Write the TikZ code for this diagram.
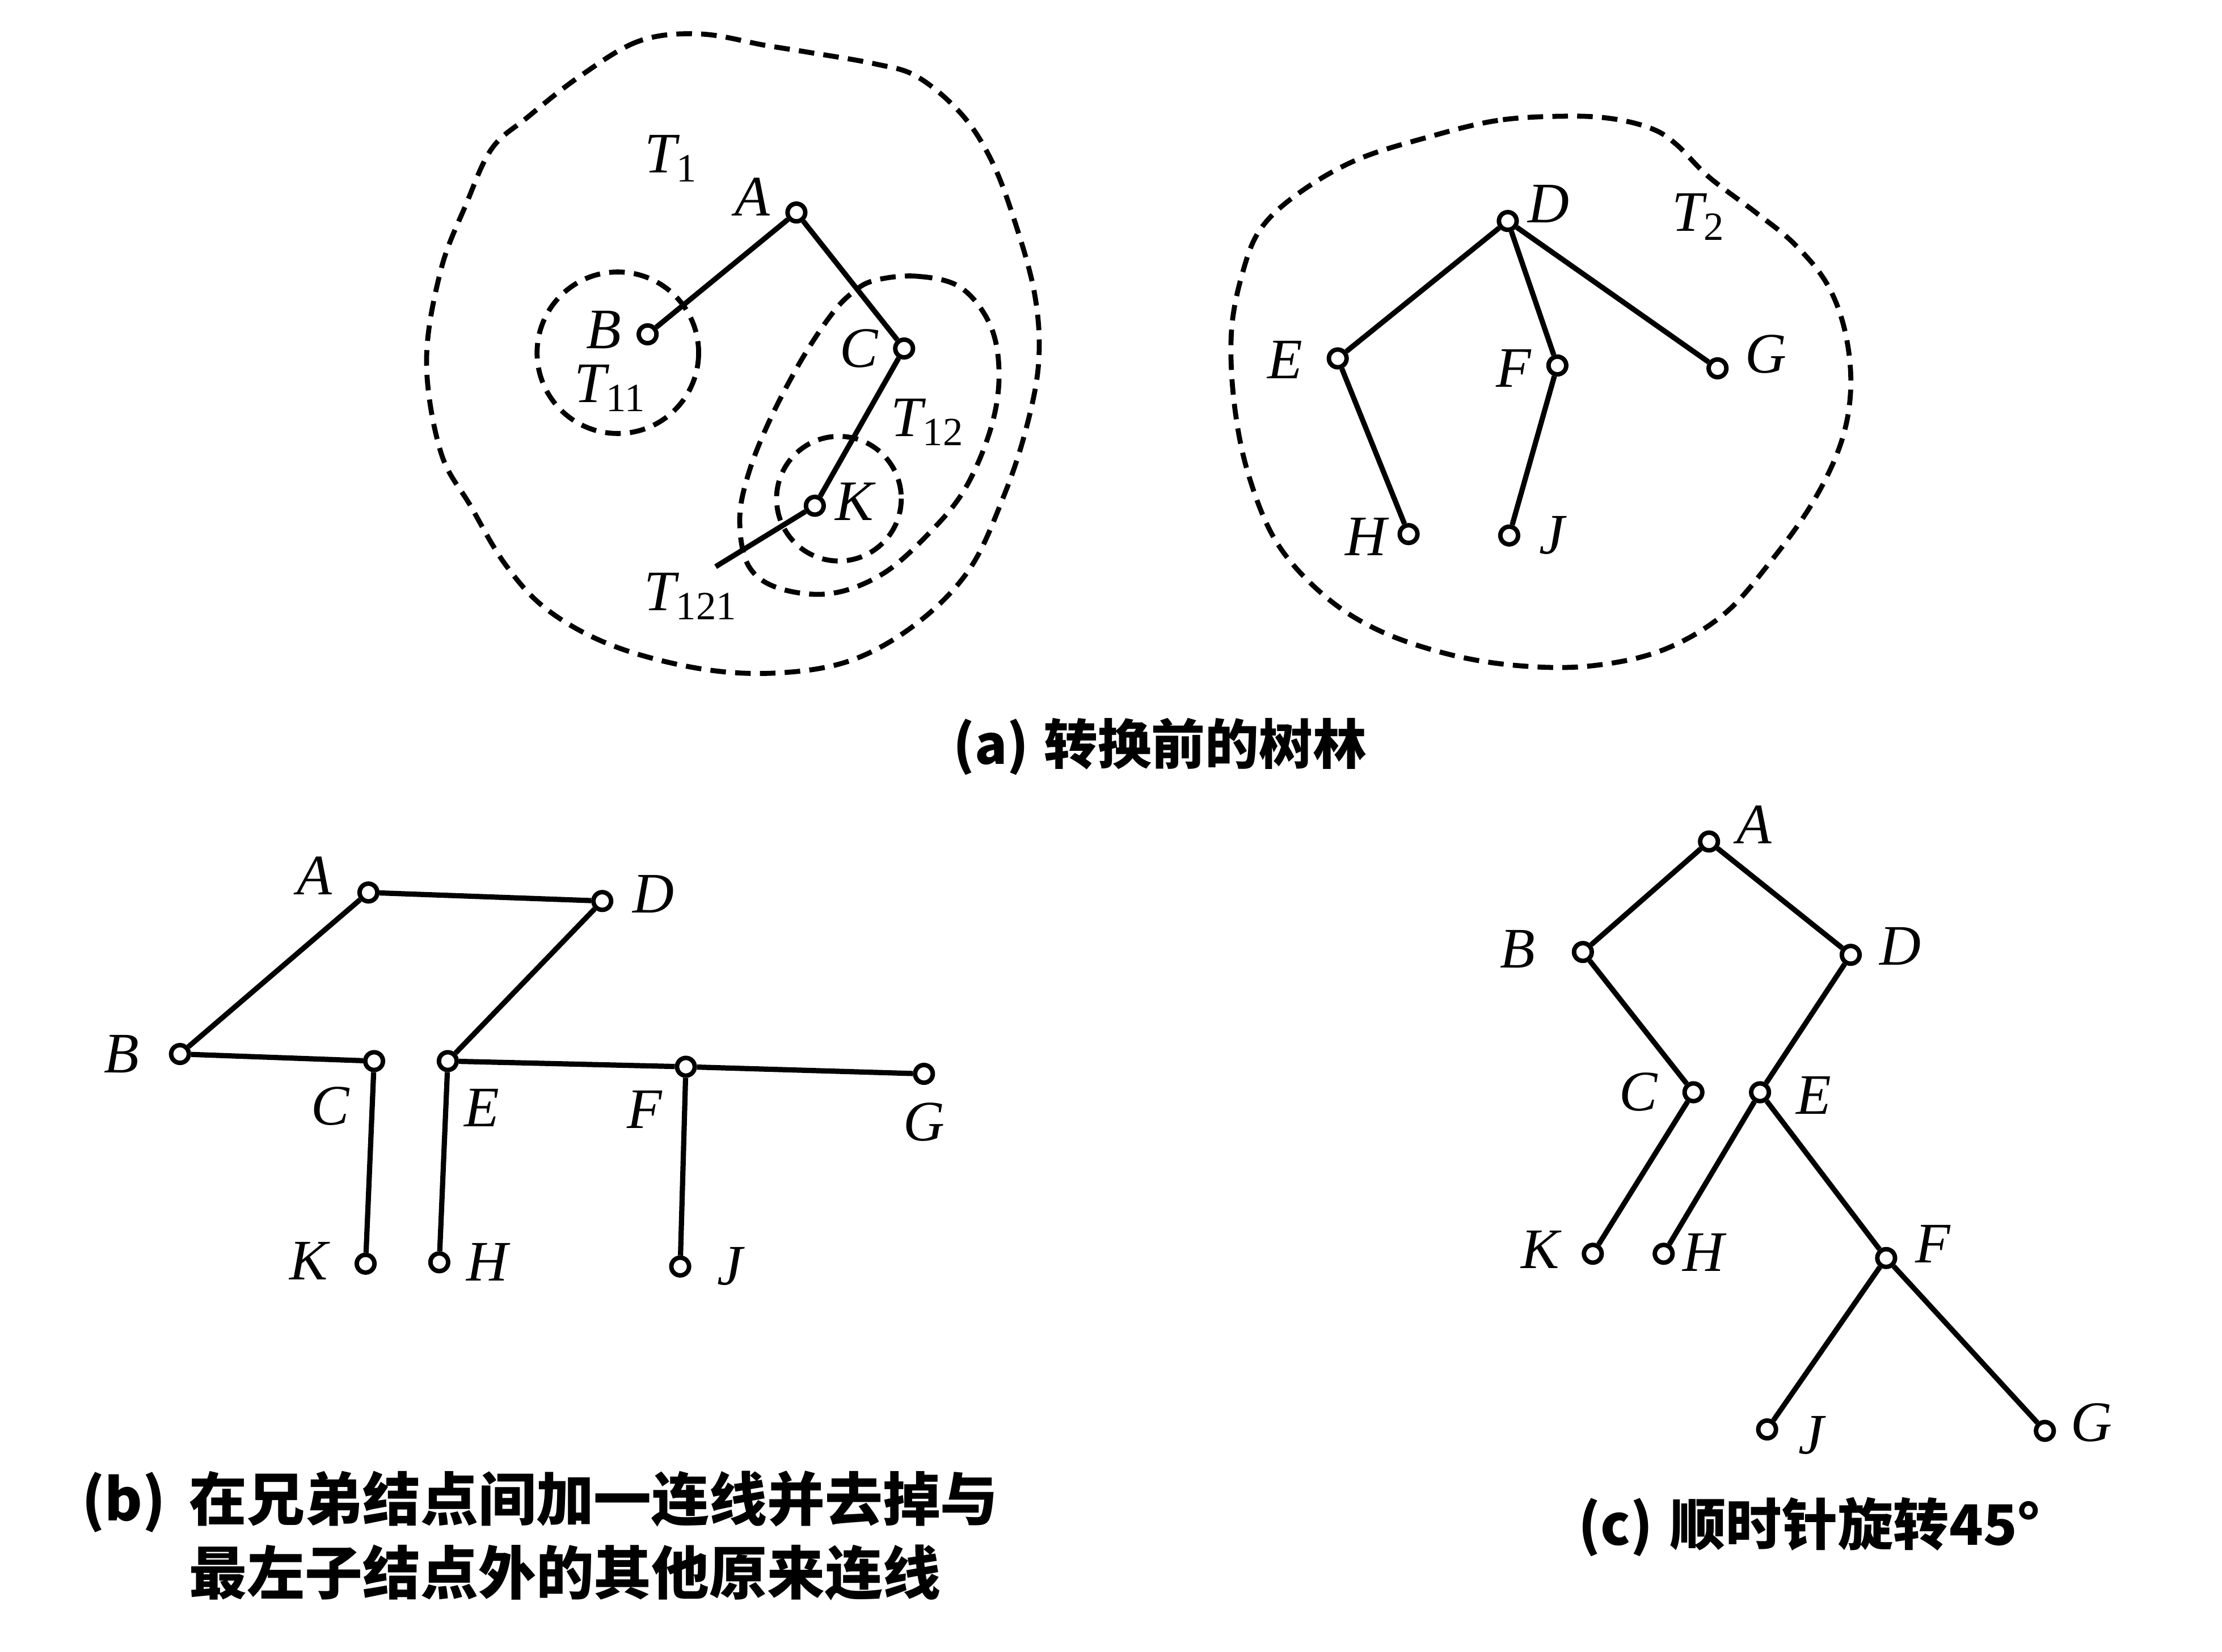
\documentclass[tikz,border=0pt]{standalone}
\usepackage{fontspec}
\setmainfont{Liberation Serif}
\newfontfamily\cjk{Noto Sans CJK SC}
\begin{document}
\begin{tikzpicture}[x=0.1mm, y=-0.1mm,
  vtx/.style={circle, draw, fill=white, inner sep=0pt, minimum size=1.25mm, line width=0.9pt},
  lbl/.style={inner sep=0pt, font=\fontsize{11.5}{13}\selectfont\itshape},
  edge/.style={line width=1.05pt},
  bound/.style={dash pattern=on 1.1mm off 0.65mm, line width=1pt},
  captext/.style={inner sep=0pt, anchor=west, align=left, font=\fontsize{#1}{14.8}\selectfont\cjk\bfseries}]
\useasboundingbox (0,0) rectangle (1568,1166);
% (a) T1
\draw[bound] plot[smooth cycle, tension=0.6] coordinates {(494,24) (451,29) (409,54) (372,83) (347,105) (329,144) (311,191) (301,255) (311,319) (332,357) (357,399) (387,431) (433,456) (494,472) (549,475) (601,466) (647,440) (684,402) (708,351) (724,303) (733,255) (730,207) (715,153) (699,112) (678,80) (647,54) (617,45) (571,37) (540,32)};
\draw[bound] (436,249) circle[radius=57];
\draw[bound] plot[smooth cycle, tension=0.6] coordinates {(617,198) (647,195) (678,203) (699,230) (705,265) (699,303) (681,345) (656,376) (623,405) (586,419) (549,415) (528,399) (522,367) (528,335) (543,297) (565,255) (586,223) (601,207)};
\draw[bound] (592,352) circle[radius=44];
\node[vtx] (aA) at (562,150) {};
\node[vtx] (aB) at (457,236) {};
\node[vtx] (aC) at (638,246) {};
\node[vtx] (aK) at (575,357) {};
\coordinate (aT) at (505,400);
\draw[edge] (aA) -- (aB);
\draw[edge] (aA) -- (aC);
\draw[edge] (aC) -- (aK);
\draw[edge] (aK) -- (aT);
\node[lbl] (tT1) at (474,112) {T\textsubscript{\upshape 1}};
\node[lbl] (tT11) at (431,274) {T\textsubscript{\upshape 11}};
\node[lbl] (tT12) at (655,298) {T\textsubscript{\upshape 12}};
\node[lbl] (tT121) at (488,421) {T\textsubscript{\upshape 121}};
\node[lbl] (laA) at (531,139) {A};
\node[lbl] (laB) at (426,233) {B};
\node[lbl] (laC) at (606,246) {C};
\node[lbl] (laK) at (603,354) {K};
% (a) T2
\draw[bound] plot[smooth cycle, tension=0.6] coordinates {(1106,82) (1057,85) (1007,97) (957,113) (917,136) (890,161) (877,192) (869,234) (871,285) (881,335) (901,383) (934,420) (973,445) (1023,462) (1073,470) (1123,470) (1173,459) (1216,434) (1249,397) (1279,355) (1299,313) (1306,274) (1302,234) (1289,200) (1266,172) (1239,150) (1206,125) (1183,102) (1166,91) (1139,84)};
\node[vtx] (aD) at (1064,156) {};
\node[vtx] (aE) at (944,253) {};
\node[vtx] (aF) at (1099,258) {};
\node[vtx] (aG) at (1212,260) {};
\node[vtx] (aH) at (994,377) {};
\node[vtx] (aJ) at (1065,378) {};
\draw[edge] (aD) -- (aE);
\draw[edge] (aD) -- (aF);
\draw[edge] (aD) -- (aG);
\draw[edge] (aE) -- (aH);
\draw[edge] (aF) -- (aJ);
\node[lbl] (tT2) at (1199,153) {T\textsubscript{\upshape 2}};
\node[lbl] (laD) at (1093,144) {D};
\node[lbl] (laE) at (907,254) {E};
\node[lbl] (laF) at (1068,260) {F};
\node[lbl] (laG) at (1246,250) {G};
\node[lbl] (laH) at (964,379) {H};
\node[lbl] (laJ) at (1095,378) {J};
\node[captext=10.8] (capa) at (672,527) {\makebox[6.4mm][l]{(a)}转换前的树林};
% (b)
\node[vtx] (bA) at (260,630) {};
\node[vtx] (bD) at (425,636) {};
\node[vtx] (bB) at (127,744) {};
\node[vtx] (bC) at (264,749) {};
\node[vtx] (bE) at (316,749) {};
\node[vtx] (bF) at (484,753) {};
\node[vtx] (bG) at (652,758) {};
\node[vtx] (bK) at (258,892) {};
\node[vtx] (bH) at (310,891) {};
\node[vtx] (bJ) at (480,894) {};
\draw[edge] (bA) -- (bD);
\draw[edge] (bA) -- (bB);
\draw[edge] (bB) -- (bC);
\draw[edge] (bC) -- (bK);
\draw[edge] (bD) -- (bE);
\draw[edge] (bE) -- (bF);
\draw[edge] (bF) -- (bG);
\draw[edge] (bE) -- (bH);
\draw[edge] (bF) -- (bJ);
\node[lbl] (lbA) at (222,618) {A};
\node[lbl] (lbD) at (461,631) {D};
\node[lbl] (lbB) at (86,744) {B};
\node[lbl] (lbC) at (233,781) {C};
\node[lbl] (lbE) at (340,782) {E};
\node[lbl] (lbF) at (455,783) {F};
\node[lbl] (lbG) at (652,792) {G};
\node[lbl] (lbK) at (218,890) {K};
\node[lbl] (lbH) at (344,891) {H};
\node[lbl] (lbJ) at (515,894) {J};
\node[captext=11.6] (capb) at (57,1084) {\makebox[7.6mm][l]{(b)}在兄弟结点间加一连线并去掉与\\\hspace*{7.6mm}最左子结点外的其他原来连线};
% (c)
\node[vtx] (cA) at (1206,594) {};
\node[vtx] (cB) at (1117,672) {};
\node[vtx] (cD) at (1306,674) {};
\node[vtx] (cC) at (1195,771) {};
\node[vtx] (cE) at (1242,771) {};
\node[vtx] (cK) at (1124,885) {};
\node[vtx] (cH) at (1174,885) {};
\node[vtx] (cF) at (1331,888) {};
\node[vtx] (cJ) at (1247,1009) {};
\node[vtx] (cG) at (1443,1010) {};
\draw[edge] (cA) -- (cB);
\draw[edge] (cA) -- (cD);
\draw[edge] (cB) -- (cC);
\draw[edge] (cC) -- (cK);
\draw[edge] (cD) -- (cE);
\draw[edge] (cE) -- (cH);
\draw[edge] (cE) -- (cF);
\draw[edge] (cF) -- (cJ);
\draw[edge] (cF) -- (cG);
\node[lbl] (lcA) at (1238,582) {A};
\node[lbl] (lcB) at (1071,670) {B};
\node[lbl] (lcD) at (1341,668) {D};
\node[lbl] (lcC) at (1156,771) {C};
\node[lbl] (lcE) at (1280,773) {E};
\node[lbl] (lcK) at (1087,882) {K};
\node[lbl] (lcH) at (1202,884) {H};
\node[lbl] (lcF) at (1364,878) {F};
\node[lbl] (lcJ) at (1278,1013) {J};
\node[lbl] (lcG) at (1476,1004) {G};
\node[captext=11.2] (capc) at (1113,1078) {\makebox[6.5mm][l]{(c)}顺时针旋转45°};
\end{tikzpicture}
\end{document}
